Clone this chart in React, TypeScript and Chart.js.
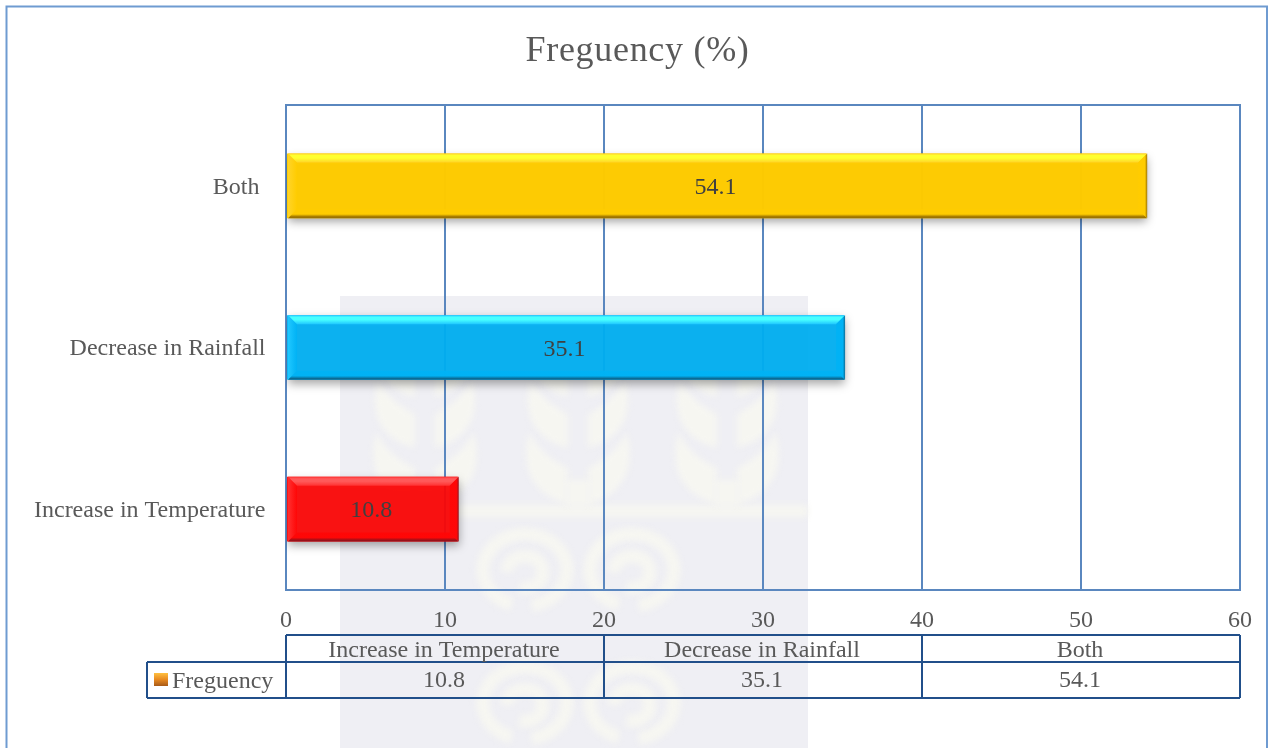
import React, { useEffect, useRef } from "react";
import { Chart, registerables } from "chart.js";

Chart.register(...registerables);

const categories = ["Both ", "Decrease in Rainfall", "Increase in Temperature"];
const values = [54.1, 35.1, 10.8];
const tableCategories = ["Increase in Temperature", "Decrease in Rainfall", "Both"];
const tableValues = ["10.8", "35.1", "54.1"];
const seriesName = "Freguency";
const chartTitle = "Freguency (%)";
const barFills = ["rgba(255,204,0,0.98)", "rgba(0,178,245,0.93)", "rgba(255,6,6,0.93)"];
const barLights = ["#ffff30", "#48ffff", "#ff5a5a"];
const barLeftLights = ["#ffd428", "#20c8ff", "#ff3030"];
const barDarks = ["#9c7300", "#0b6a94", "#98111a"];
const FONT = '"Liberation Serif", "Times New Roman", serif';
const TEXT = "#595959";

function crescent(ctx: CanvasRenderingContext2D, cx: number, tipY: number, w: number, h: number) {
  for (const side of [-1, 1]) {
    ctx.beginPath();
    ctx.moveTo(cx + side * 10, tipY + h);
    ctx.bezierCurveTo(cx + side * w * 0.95, tipY + h * 0.85, cx + side * w * 1.05, tipY + h * 0.4, cx + side * w * 0.9, tipY);
    ctx.bezierCurveTo(cx + side * w * 0.7, tipY + h * 0.3, cx + side * w * 0.4, tipY + h * 0.42, cx + side * 10, tipY + h * 0.5);
    ctx.closePath();
    ctx.fill();
  }
}

function spiral(ctx: CanvasRenderingContext2D, cx: number, cy: number) {
  ctx.beginPath();
  ctx.ellipse(cx, cy, 42, 36, 0, Math.PI * 0.6, Math.PI * 2.45);
  ctx.stroke();
  ctx.beginPath();
  ctx.ellipse(cx, cy + 2, 18, 16, 0, Math.PI * 1.0, Math.PI * 2.6);
  ctx.stroke();
}

const watermarkPlugin = {
  id: "watermark",
  beforeDraw(chart: any) {
    const ctx: CanvasRenderingContext2D = chart.ctx;
    ctx.save();
    ctx.fillStyle = "#ffffff";
    ctx.fillRect(0, 0, chart.width, chart.height);
    ctx.fillStyle = "#efeff4";
    ctx.fillRect(340, 296, 468, 452);
    ctx.filter = "blur(3px)";
    ctx.fillStyle = "#f6f6f1";
    ctx.strokeStyle = "#f6f6f1";
    ctx.fillRect(340, 505, 468, 12);
    for (const cx of [425, 578, 727]) {
      crescent(ctx, cx, 325, 52, 72);
      crescent(ctx, cx, 380, 52, 68);
      crescent(ctx, cx, 432, 54, 72);
      ctx.fillRect(cx - 12, 480, 24, 26);
    }
    ctx.lineWidth = 13;
    for (const cx of [525, 632]) {
      spiral(ctx, cx, 570);
      spiral(ctx, cx, 703);
    }
    ctx.restore();
  },
};

const yLabelsPlugin = {
  id: "yLabels",
  afterDraw(chart: any) {
    const ctx: CanvasRenderingContext2D = chart.ctx;
    const scale = chart.scales.y;
    ctx.save();
    ctx.fillStyle = TEXT;
    ctx.font = `24px ${FONT}`;
    ctx.textAlign = "right";
    ctx.textBaseline = "middle";
    categories.forEach((_, i) => {
      ctx.fillText(scale.getLabelForValue(i), chart.chartArea.left - 20.5, scale.getPixelForTick(i) + 1.5);
    });
    ctx.restore();
  },
};

const barLookPlugin = {
  id: "barLook",
  beforeDatasetsDraw(chart: any) {
    const ctx: CanvasRenderingContext2D = chart.ctx;
    const a = chart.chartArea;
    ctx.save();
    ctx.strokeStyle = "#5a87bf";
    ctx.lineWidth = 2;
    ctx.strokeRect(a.left, a.top, a.right - a.left, a.bottom - a.top);
    ctx.shadowColor = "rgba(0,0,0,0.38)";
    ctx.shadowBlur = 9;
    ctx.shadowOffsetX = 1;
    ctx.shadowOffsetY = 4;
  },
  afterDatasetsDraw(chart: any) {
    const ctx: CanvasRenderingContext2D = chart.ctx;
    ctx.restore();
    ctx.save();
    const bars = chart.getDatasetMeta(0).data;
    bars.forEach((bar: any, i: number) => {
      const right = bar.x + 1;
      const left = bar.base + 1;
      const top = bar.y - bar.height / 2;
      const bottom = bar.y + bar.height / 2;
      const d = 9;
      const base = barFills[i];

      const lg = ctx.createLinearGradient(left, 0, left + d, 0);
      lg.addColorStop(0, barLeftLights[i]);
      lg.addColorStop(1, base);
      ctx.fillStyle = lg;
      ctx.beginPath();
      ctx.moveTo(left, top);
      ctx.lineTo(left, bottom);
      ctx.lineTo(left + d, bottom - d);
      ctx.lineTo(left + d, top + d);
      ctx.closePath();
      ctx.fill();

      const tg = ctx.createLinearGradient(0, top, 0, top + d);
      tg.addColorStop(0, barLeftLights[i]);
      tg.addColorStop(0.22, barLights[i]);
      tg.addColorStop(0.5, barLights[i]);
      tg.addColorStop(1, barLeftLights[i]);
      ctx.fillStyle = tg;
      ctx.beginPath();
      ctx.moveTo(left, top);
      ctx.lineTo(right, top);
      ctx.lineTo(right - d, top + d);
      ctx.lineTo(left + d, top + d);
      ctx.closePath();
      ctx.fill();

      const bg = ctx.createLinearGradient(0, bottom - d, 0, bottom);
      bg.addColorStop(0, base);
      bg.addColorStop(0.55, base);
      bg.addColorStop(0.85, barDarks[i]);
      bg.addColorStop(1, barDarks[i]);
      ctx.fillStyle = bg;
      ctx.beginPath();
      ctx.moveTo(left, bottom);
      ctx.lineTo(right, bottom);
      ctx.lineTo(right - d, bottom - d);
      ctx.lineTo(left + d, bottom - d);
      ctx.closePath();
      ctx.fill();

      const rg = ctx.createLinearGradient(right - d, 0, right, 0);
      rg.addColorStop(0, base);
      rg.addColorStop(0.75, base);
      rg.addColorStop(1, barDarks[i]);
      ctx.fillStyle = rg;
      ctx.beginPath();
      ctx.moveTo(right, top);
      ctx.lineTo(right, bottom);
      ctx.lineTo(right - d, bottom - d);
      ctx.lineTo(right - d, top + d);
      ctx.closePath();
      ctx.fill();

      ctx.fillStyle = "#404040";
      ctx.font = `24px ${FONT}`;
      ctx.textAlign = "center";
      ctx.textBaseline = "middle";
      ctx.fillText(String(values[i]), (bar.base + bar.x) / 2 - 1, bar.y + 2);
    });
    ctx.restore();
  },
};

const tablePlugin = {
  id: "dataTable",
  afterDraw(chart: any) {
    const ctx: CanvasRenderingContext2D = chart.ctx;
    const a = chart.chartArea;
    const colW = (a.right - a.left) / tableCategories.length;
    const yTop = 635;
    const yMid = 662;
    const yBot = 698;
    const keyLeft = 147;
    ctx.save();
    ctx.strokeStyle = "#6f9bd1";
    ctx.lineWidth = 2;
    ctx.strokeRect(6.5, 6.5, 1260.5, 780);

    ctx.fillStyle = TEXT;
    ctx.font = `36px ${FONT}`;
    (ctx as any).letterSpacing = "0.7px";
    ctx.textAlign = "center";
    ctx.textBaseline = "middle";
    ctx.fillText(chartTitle, 637.5, 52);
    (ctx as any).letterSpacing = "0px";

    ctx.strokeStyle = "#214f8a";
    ctx.lineWidth = 2;
    ctx.beginPath();
    ctx.moveTo(a.left, yTop);
    ctx.lineTo(a.right, yTop);
    ctx.moveTo(keyLeft, yMid);
    ctx.lineTo(a.right, yMid);
    ctx.moveTo(keyLeft, yBot);
    ctx.lineTo(a.right, yBot);
    ctx.moveTo(keyLeft, yMid);
    ctx.lineTo(keyLeft, yBot);
    for (let i = 0; i <= tableCategories.length; i++) {
      const x = a.left + colW * i;
      ctx.moveTo(x, yTop);
      ctx.lineTo(x, yBot);
    }
    ctx.stroke();

    ctx.fillStyle = TEXT;
    ctx.font = `24px ${FONT}`;
    ctx.textBaseline = "middle";
    ctx.textAlign = "center";
    tableCategories.forEach((c, i) => {
      const cx = a.left + colW * (i + 0.5) - 1;
      ctx.fillText(c, cx, yTop + 16);
      ctx.fillText(tableValues[i], cx, yMid + 19);
    });
    ctx.textAlign = "left";
    ctx.fillText(seriesName, 172, yMid + 19.5);

    const g = ctx.createLinearGradient(0, 673, 0, 686);
    g.addColorStop(0, "#ffc040");
    g.addColorStop(0.5, "#e88a20");
    g.addColorStop(1, "#a85a18");
    ctx.fillStyle = g;
    ctx.fillRect(154, 673, 14, 13);
    ctx.restore();
  },
};

export default function App() {
  const ref = useRef<HTMLCanvasElement | null>(null);
  useEffect(() => {
    const chart = new Chart(ref.current as HTMLCanvasElement, {
      type: "bar",
      data: {
        labels: categories,
        datasets: [
          {
            label: seriesName,
            data: values,
            backgroundColor: barFills,
            borderWidth: 0,
            barPercentage: 0.4,
            categoryPercentage: 1,
          },
        ],
      },
      options: {
        indexAxis: "y",
        responsive: false,
        animation: false,
        devicePixelRatio: 1,
        layout: { padding: { top: 105, left: 0, right: 33, bottom: 110 } },
        plugins: {
          legend: { display: false },
          tooltip: { enabled: false },
          title: { display: false },
        },
        scales: {
          x: {
            type: "linear",
            min: 0,
            max: 60,
            ticks: { stepSize: 10, color: TEXT, font: { family: FONT, size: 24 }, padding: 16, maxRotation: 0 },
            grid: { color: "#5a87bf", lineWidth: 2, drawTicks: false },
            border: { display: false },
            afterFit: (s: any) => {
              s.height = 48;
            },
          },
          y: {
            type: "category",
            ticks: { display: false },
            grid: { display: false, drawTicks: false },
            border: { display: false },
            afterFit: (s: any) => {
              s.width = 286;
            },
          },
        },
      } as any,
      plugins: [watermarkPlugin, barLookPlugin, yLabelsPlugin, tablePlugin],
    });
    return () => chart.destroy();
  }, []);
  return (
    <canvas
      ref={ref}
      width={1273}
      height={748}
      style={{ position: "fixed", left: 0, top: 0, width: 1273, height: 748, display: "block" }}
    />
  );
}
